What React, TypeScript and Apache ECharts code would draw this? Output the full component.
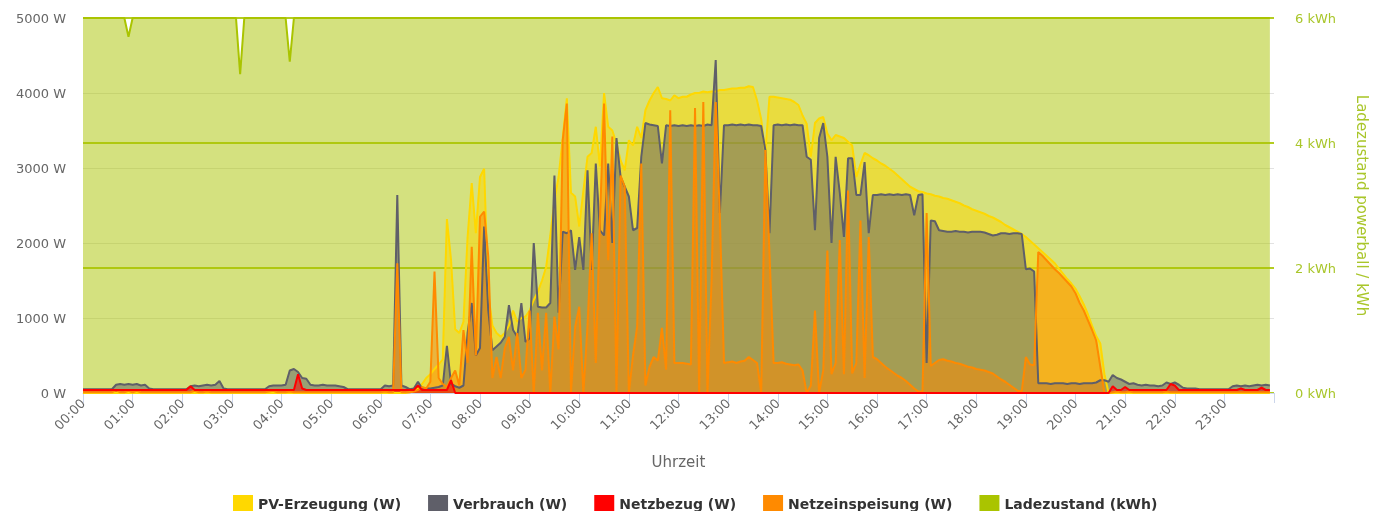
import React, { useEffect, useRef } from "react";
import * as echarts from "echarts";

// 5-minute slots, 12 per hour, 00:00 .. 23:55
const hourLabels = [
  "00:00", "01:00", "02:00", "03:00", "04:00", "05:00", "06:00", "07:00",
  "08:00", "09:00", "10:00", "11:00", "12:00", "13:00", "14:00", "15:00",
  "16:00", "17:00", "18:00", "19:00", "20:00", "21:00", "22:00", "23:00",
];
const slotMinutes = 5;

const pvErzeugung = [
  0, 0, 0, 0, 0, 0, 0, 0, 0, 0, 0, 0,
  0, 0, 0, 0, 0, 0, 0, 0, 0, 0, 0, 0,
  0, 0, 0, 0, 0, 0, 0, 0, 0, 0, 0, 0,
  0, 0, 0, 0, 0, 0, 0, 0, 0, 0, 0, 0,
  0, 0, 0, 0, 0, 0, 0, 0, 0, 0, 0, 0,
  0, 0, 0, 0, 0, 0, 0, 0, 0, 0, 0, 0,
  0, 0, 0, 0, 0, 0, 0, 10, 30, 60, 120, 200,
  250, 320, 380, 450, 2320, 1770, 850, 800, 950, 2080, 2800, 2130,
  2880, 2990, 1330, 900, 800, 750, 800, 900, 1100, 950, 1000, 1020,
  1100, 1240, 1350, 1500, 1680, 2100, 2570, 2880, 3400, 3930, 2670, 2620,
  2220, 2700, 3150, 3200, 3550, 3020, 4000, 3550, 3500, 3330, 3100, 2970,
  3370, 3300, 3550, 3400, 3770, 3900, 4000, 4080, 3930, 3920, 3900, 3970,
  3930, 3950, 3950, 3980, 4000, 4000, 4020, 4010, 4020, 4020, 4040, 4040,
  4050, 4060, 4060, 4070, 4070, 4090, 4080, 3900, 3650, 3200, 3950, 3950,
  3940, 3930, 3920, 3910, 3880, 3840, 3700, 3590, 3150, 3600, 3660, 3680,
  3460, 3370, 3440, 3420, 3400, 3350, 3300, 2880, 3050, 3200, 3170, 3130,
  3100, 3060, 3030, 2990, 2950, 2900, 2850, 2800, 2750, 2720, 2690, 2680,
  2660, 2650, 2630, 2620, 2600, 2590, 2570, 2550, 2530, 2500, 2480, 2450,
  2430, 2410, 2390, 2360, 2340, 2310, 2280, 2240, 2210, 2180, 2150, 2120,
  2080, 2030, 1980, 1930, 1880, 1830, 1780, 1730, 1660, 1590, 1520, 1460,
  1390, 1290, 1180, 1050, 900, 760, 660, 250, 0, 0, 0, 0,
  0, 0, 0, 0, 0, 0, 0, 0, 0, 0, 0, 0,
  0, 0, 0, 0, 0, 0, 0, 0, 0, 0, 0, 0,
  0, 0, 0, 0, 0, 0, 0, 0, 0, 0, 0, 0,
];

const verbrauch = [
  50, 50, 50, 50, 50, 50, 50, 50, 110, 120, 110, 120,
  110, 120, 100, 110, 60, 50, 50, 50, 50, 50, 50, 50,
  50, 50, 90, 100, 90, 100, 110, 100, 110, 160, 60, 50,
  50, 50, 50, 50, 50, 50, 50, 50, 50, 90, 100, 100,
  100, 110, 300, 320, 280, 200, 190, 110, 100, 100, 110, 100,
  100, 100, 90, 80, 50, 50, 50, 50, 50, 50, 50, 50,
  50, 100, 90, 100, 2640, 100, 80, 50, 60, 150, 60, 60,
  60, 70, 80, 100, 630, 120, 90, 70, 100, 800, 1200, 500,
  600, 2220, 1100, 570, 620, 670, 750, 1170, 840, 750, 1200, 680,
  730, 2000, 1150, 1140, 1140, 1200, 2900, 1070, 2150, 2130, 2170, 1640,
  2080, 1640, 2970, 1640, 3060, 2170, 2100, 3060, 2000, 3400, 2880, 2750,
  2620, 2170, 2200, 3150, 3600, 3580, 3570, 3560, 3060, 3570, 3560, 3570,
  3560, 3570, 3560, 3570, 3560, 3570, 3560, 3580, 3570, 4440, 2400, 3570,
  3570, 3580, 3570, 3580, 3570, 3580, 3570, 3570, 3560, 3240, 2130, 3570,
  3580, 3570, 3580, 3570, 3580, 3570, 3570, 3150, 3110, 2170, 3400, 3600,
  3150, 2000, 3150, 2670, 2080, 3130, 3130, 2640, 2640, 3080, 2130, 2640,
  2640, 2650, 2640, 2650, 2640, 2650, 2640, 2650, 2640, 2370, 2640, 2650,
  400, 2300, 2290, 2170, 2160, 2150, 2150, 2160, 2150, 2150, 2140, 2150,
  2150, 2150, 2140, 2120, 2100, 2110, 2130, 2130, 2120, 2130, 2130, 2120,
  1650, 1660, 1620, 130, 130, 130, 120, 130, 130, 130, 120, 130,
  130, 120, 130, 130, 130, 140, 170, 170, 150, 240, 200, 180,
  150, 120, 130, 110, 100, 110, 100, 100, 90, 100, 140, 120,
  140, 110, 70, 60, 60, 60, 50, 50, 50, 50, 50, 50,
  50, 50, 90, 100, 90, 100, 90, 100, 110, 100, 110, 100,
];

const netzbezug = [
  40, 40, 40, 40, 40, 40, 40, 40, 40, 40, 40, 40,
  40, 40, 40, 40, 40, 40, 40, 40, 40, 40, 40, 40,
  40, 40, 90, 40, 40, 40, 40, 40, 40, 40, 40, 40,
  40, 40, 40, 40, 40, 40, 40, 40, 40, 40, 40, 40,
  40, 40, 40, 40, 250, 60, 40, 40, 40, 40, 40, 40,
  40, 40, 40, 40, 40, 40, 40, 40, 40, 40, 40, 40,
  40, 40, 40, 40, 40, 40, 40, 40, 40, 100, 40, 40,
  40, 40, 40, 40, 40, 170, 0, 0, 0, 0, 0, 0,
  0, 0, 0, 0, 0, 0, 0, 0, 0, 0, 0, 0,
  0, 0, 0, 0, 0, 0, 0, 0, 0, 0, 0, 0,
  0, 0, 0, 0, 0, 0, 0, 0, 0, 0, 0, 0,
  0, 0, 0, 0, 0, 0, 0, 0, 0, 0, 0, 0,
  0, 0, 0, 0, 0, 0, 0, 0, 0, 0, 0, 0,
  0, 0, 0, 0, 0, 0, 0, 0, 0, 0, 0, 0,
  0, 0, 0, 0, 0, 0, 0, 0, 0, 0, 0, 0,
  0, 0, 0, 0, 0, 0, 0, 0, 0, 0, 0, 0,
  0, 0, 0, 0, 0, 0, 0, 0, 0, 0, 0, 0,
  0, 0, 0, 0, 0, 0, 0, 0, 0, 0, 0, 0,
  0, 0, 0, 0, 0, 0, 0, 0, 0, 0, 0, 0,
  0, 0, 0, 0, 0, 0, 0, 0, 0, 0, 0, 0,
  0, 0, 0, 0, 0, 0, 0, 0, 0, 90, 40, 40,
  80, 40, 40, 40, 40, 40, 40, 40, 40, 40, 40, 120,
  100, 40, 40, 40, 40, 40, 40, 40, 40, 40, 40, 40,
  40, 40, 40, 40, 60, 40, 40, 40, 40, 70, 40, 40,
];

const netzeinspeisung = [
  10, 10, 10, 10, 10, 10, 10, 10, 40, 10, 10, 30,
  10, 30, 10, 10, 10, 10, 10, 10, 10, 10, 10, 10,
  10, 10, 10, 30, 10, 10, 20, 10, 10, 10, 10, 10,
  10, 10, 10, 10, 10, 10, 10, 10, 10, 20, 30, 10,
  10, 10, 20, 10, 10, 10, 10, 10, 10, 10, 10, 10,
  10, 10, 10, 10, 10, 10, 10, 10, 10, 10, 10, 10,
  10, 20, 10, 10, 1730, 10, 10, 10, 20, 40, 80, 60,
  150, 1620, 200, 120, 80, 200, 300, 100, 840, 400, 1950, 500,
  2350, 2420, 1820, 200, 480, 200, 600, 750, 300, 800, 200, 310,
  1100, 0, 1070, 300, 1070, 0, 1020, 580, 3370, 3860, 0, 880,
  1150, 0, 900, 2130, 400, 2300, 3860, 1770, 3420, 0, 2900, 2750,
  0, 500, 880, 3060, 100, 350, 480, 430, 870, 310, 3770, 400,
  400, 400, 390, 380, 3800, 0, 3880, 0, 1500, 3880, 2350, 400,
  410, 420, 400, 420, 430, 480, 440, 400, 0, 3240, 1870, 400,
  400, 410, 390, 380, 370, 380, 300, 0, 100, 1100, 0, 300,
  1900, 250, 400, 2040, 250, 2700, 260, 400, 2300, 200, 2080, 480,
  450, 400, 350, 310, 270, 230, 200, 160, 110, 60, 20, 20,
  2400, 360, 400, 440, 450, 430, 420, 400, 390, 370, 350, 340,
  320, 310, 300, 280, 260, 220, 180, 150, 110, 70, 30, 20,
  480, 380, 370, 1880, 1830, 1770, 1710, 1650, 1600, 1540, 1480, 1420,
  1330, 1200, 1100, 970, 840, 700, 350, 0, 0, 10, 20, 10,
  10, 20, 10, 10, 10, 10, 10, 10, 10, 10, 20, 10,
  10, 10, 10, 10, 10, 10, 10, 10, 10, 10, 10, 10,
  10, 10, 10, 10, 10, 10, 10, 10, 10, 10, 10, 10,
];

const ladezustand = [
  6, 6, 6, 6, 6, 6, 6, 6, 6, 6, 6, 5.7,
  6, 6, 6, 6, 6, 6, 6, 6, 6, 6, 6, 6,
  6, 6, 6, 6, 6, 6, 6, 6, 6, 6, 6, 6,
  6, 6, 5.1, 6, 6, 6, 6, 6, 6, 6, 6, 6,
  6, 6, 5.3, 6, 6, 6, 6, 6, 6, 6, 6, 6,
  6, 6, 6, 6, 6, 6, 6, 6, 6, 6, 6, 6,
  6, 6, 6, 6, 6, 6, 6, 6, 6, 6, 6, 6,
  6, 6, 6, 6, 6, 6, 6, 6, 6, 6, 6, 6,
  6, 6, 6, 6, 6, 6, 6, 6, 6, 6, 6, 6,
  6, 6, 6, 6, 6, 6, 6, 6, 6, 6, 6, 6,
  6, 6, 6, 6, 6, 6, 6, 6, 6, 6, 6, 6,
  6, 6, 6, 6, 6, 6, 6, 6, 6, 6, 6, 6,
  6, 6, 6, 6, 6, 6, 6, 6, 6, 6, 6, 6,
  6, 6, 6, 6, 6, 6, 6, 6, 6, 6, 6, 6,
  6, 6, 6, 6, 6, 6, 6, 6, 6, 6, 6, 6,
  6, 6, 6, 6, 6, 6, 6, 6, 6, 6, 6, 6,
  6, 6, 6, 6, 6, 6, 6, 6, 6, 6, 6, 6,
  6, 6, 6, 6, 6, 6, 6, 6, 6, 6, 6, 6,
  6, 6, 6, 6, 6, 6, 6, 6, 6, 6, 6, 6,
  6, 6, 6, 6, 6, 6, 6, 6, 6, 6, 6, 6,
  6, 6, 6, 6, 6, 6, 6, 6, 6, 6, 6, 6,
  6, 6, 6, 6, 6, 6, 6, 6, 6, 6, 6, 6,
  6, 6, 6, 6, 6, 6, 6, 6, 6, 6, 6, 6,
  6, 6, 6, 6, 6, 6, 6, 6, 6, 6, 6, 6,
];

const seriesNames = [
  "PV-Erzeugung (W)",
  "Verbrauch (W)",
  "Netzbezug (W)",
  "Netzeinspeisung (W)",
  "Ladezustand (kWh)",
];

const toPairs = (vals: number[]) => vals.map((v, i) => [i * slotMinutes, v]);

const FONT = "DejaVu Sans";
const GREEN_TEXT = "#a9c62a";
const W = 1377;
const H = 511;

export default function App() {
  const ref = useRef<HTMLDivElement>(null);

  useEffect(() => {
    document.documentElement.style.overflow = "hidden";
    document.body.style.margin = "0";
    document.body.style.overflow = "hidden";
    if (!ref.current) return;
    const chart = echarts.init(ref.current, undefined, {
      renderer: "svg",
      width: W,
      height: H,
    });

    const areaSeries = (
      name: string,
      data: number[],
      color: string,
      yAxisIndex = 0
    ) => ({
      name,
      type: "line",
      yAxisIndex,
      data: toPairs(data),
      showSymbol: false,
      symbol: "none",
      itemStyle: { color },
      lineStyle: { color, width: 2 },
      areaStyle: { color, opacity: 0.5 },
      emphasis: { disabled: true },
    });

    chart.setOption({
      animation: false,
      textStyle: { fontFamily: FONT },
      grid: { left: 83, right: 90, top: 18, bottom: 118, containLabel: false },
      legend: {
        data: seriesNames,
        left: 228,
        top: 490,
        icon: "rect",
        itemWidth: 20,
        itemHeight: 17,
        itemGap: 27,
        selectedMode: false,
        textStyle: { fontFamily: FONT, fontSize: 14, fontWeight: "bold", color: "#333" },
      },
      xAxis: {
        type: "value",
        min: 0,
        max: 1440,
        interval: 60,
        name: "Uhrzeit",
        nameLocation: "middle",
        nameGap: 61,
        nameTextStyle: { color: "#666", fontSize: 15, fontFamily: FONT },
        axisLine: { show: true, lineStyle: { color: "#ccd6eb", width: 1 } },
        axisTick: { show: true, length: 10, lineStyle: { color: "#ccd6eb" } },
        axisLabel: {
          rotate: 45,
          color: "#666",
          fontSize: 13,
          margin: 8,
          fontFamily: FONT,
          formatter: (v: number) => hourLabels[Math.round(v / 60)] ?? "",
        },
        splitLine: { show: false },
      },
      yAxis: [
        {
          type: "value",
          min: 0,
          max: 5000,
          interval: 1000,
          axisLine: { show: false },
          axisTick: { show: false },
          axisLabel: {
            formatter: (v: number) => `${Math.round(v)} W`,
            color: "#666",
            fontSize: 13,
            margin: 17,
            fontFamily: FONT,
          },
          splitLine: { show: true, lineStyle: { color: "#e2e2e2", width: 1 } },
        },
        {
          type: "value",
          min: 0,
          max: 6,
          interval: 2,
          position: "right",
          name: "Ladezustand powerball / kWh",
          nameLocation: "middle",
          nameRotate: -90,
          nameGap: 80,
          nameTextStyle: { color: GREEN_TEXT, fontSize: 15, fontFamily: FONT },
          axisLine: { show: false },
          axisTick: { show: false },
          axisLabel: {
            formatter: (v: number) => `${Math.round(v)} kWh`,
            color: GREEN_TEXT,
            fontSize: 13,
            margin: 21,
            fontFamily: FONT,
          },
          splitLine: { show: true, lineStyle: { color: "#b4cd20", width: 2 } },
        },
      ],
      series: [
        areaSeries(seriesNames[4], ladezustand, "#aac400", 1),
        areaSeries(seriesNames[0], pvErzeugung, "#ffd800"),
        areaSeries(seriesNames[1], verbrauch, "#5f5f69"),
        areaSeries(seriesNames[3], netzeinspeisung, "#ff8a00"),
        areaSeries(seriesNames[2], netzbezug, "#ff0000"),
      ],
    });

    return () => chart.dispose();
  }, []);

  return (
    <div
      ref={ref}
      style={{ position: "fixed", left: 0, top: 0, width: W, height: H }}
    />
  );
}
